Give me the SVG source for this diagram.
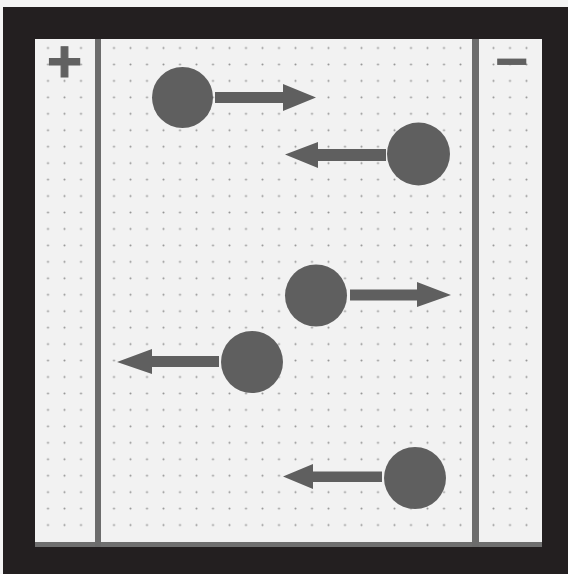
<svg xmlns="http://www.w3.org/2000/svg" width="568" height="574" viewBox="0 0 568 574">
  <style>
    .ion { fill: #5f5f5f; }
    .arrow { fill: #5f5f5f; }
    .plate { fill: #6c6c6c; }
    .sign { font-family: "Liberation Sans", Arial, sans-serif; font-weight: bold; fill: #616161; text-anchor: middle; }
  </style>
  <defs>
    <pattern id="dots" patternUnits="userSpaceOnUse" x="39.75" y="39.78" width="16.5" height="16.45">
      <circle cx="8.25" cy="8.22" r="1.05" fill="#959595"/>
    </pattern>
  </defs>
  <rect x="0" y="0" width="568" height="574" fill="#f4f4f4"/>
  <rect x="3" y="7" width="565" height="567" fill="#231f20"/>
  <g id="paper">
    <rect x="35" y="39" width="507" height="508" fill="#f2f2f2"/>
    <rect x="35" y="39" width="500" height="495" fill="url(#dots)"/>
    <rect x="35" y="542" width="507" height="5" fill="#6f6f6f"/>
  </g>
  <g id="plate-positive">
    <rect class="plate" x="95" y="39" width="6" height="508"/>
    <text class="sign" x="64.5" y="82" font-size="60" stroke="#616161" stroke-width="1.2">+</text>
  </g>
  <g id="plate-negative">
    <rect class="plate" x="472" y="39" width="7" height="508"/>
    <text class="sign" x="512" y="81" font-size="58">−</text>
  </g>
  <g id="ion1"><circle class="ion" cx="182.5" cy="97.5" r="30.5"/></g>
  <g id="ion2"><circle class="ion" cx="418.5" cy="154" r="31.5"/></g>
  <g id="ion3"><circle class="ion" cx="316" cy="295.5" r="31"/></g>
  <g id="ion4"><circle class="ion" cx="252" cy="362" r="31"/></g>
  <g id="ion5"><circle class="ion" cx="415" cy="478" r="31"/></g>
  <g id="connectors">
    <polygon class="arrow" points="215,92 283,92 283,84 316,97.5 283,111 283,103 215,103"/>
    <polygon class="arrow" points="386,149 318,149 318,142 285,154.5 318,168 318,161 386,161"/>
    <polygon class="arrow" points="350,289.5 417,289.5 417,282 451,295 417,307 417,300.5 350,300.5"/>
    <polygon class="arrow" points="219,356 152,356 152,349 117,362 152,374 152,367 219,367"/>
    <polygon class="arrow" points="382,471.5 313,471.5 313,464 283,476.5 313,489 313,482 382,482"/>
  </g>
</svg>
